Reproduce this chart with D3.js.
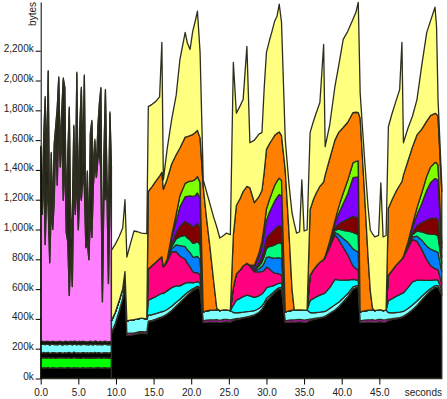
<!DOCTYPE html>
<html>
<head>
<meta charset="utf-8">
<script src="https://cdn.jsdelivr.net/npm/d3@7"></script>
<style>
  body { margin: 0; background: #fff; }
  svg { display: block; }
  text { font-family: "Liberation Sans", Arial, sans-serif; font-size: 10px; fill: #222; }
</style>
</head>
<body>
<div class="chart"></div>
<script>
//Warm-up phase (0 - 9.4 s), heap sizes in kB, one value per snapshot.
var warmTimes = [0.0,0.2,0.4,0.6,0.8,1.0,1.2,1.4,1.6,1.8,2.0,2.2,2.4,2.6,2.8,3.0,3.2,3.4,3.6,3.8,4.0,4.2,4.4,4.6,4.8,
  5.0,5.2,5.4,5.6,5.8,6.0,6.2,6.4,6.6,6.8,7.0,7.2,7.4,7.6,7.8,8.0,8.2,8.4,8.6,8.8,9.0,9.2,9.4];
var warmBlack = [72,70,73,71,72,74,70,71,73,72,71,70,72,73,71,72,70,72,74,71,72,70,73,72,71,72,70,71,73,72,
  70,72,71,73,72,70,71,72,74,71,72,70,73,71,72,70,72,71];
var warmGreen = [65,68,66,67,64,66,68,65,67,66,64,68,66,65,67,66,68,64,66,67,65,66,68,67,65,66,67,64,66,68,
  65,67,66,64,67,66,68,65,66,67,64,66,68,65,67,66,65,66];
var warmDark = [35,33,36,34,37,35,33,36,34,35,37,33,35,36,34,33,36,35,34,37,35,33,36,34,35,36,33,37,35,34,
  36,35,33,36,34,35,37,34,33,36,35,34,33,36,35,34,36,35];
var warmCyan = [55,58,54,56,57,55,53,58,56,54,57,55,56,58,54,55,57,56,53,55,58,56,54,57,55,56,58,54,56,55,
  57,53,56,58,55,54,56,57,55,54,58,56,55,57,54,56,55,57];
var warmLine = [20,22,18,21,19,20,23,18,21,20,19,22,20,18,21,20,19,22,21,18,20,22,19,21,20,18,22,20,21,19,
  20,18,22,20,19,21,20,22,18,20,21,19,20,22,18,21,20,19];
var warmPink = [1100,850,1170,650,1050,900,530,910,750,950,1400,1050,1490,1170,1450,950,1250,730,670,310,
  630,370,1070,850,1130,750,1050,950,1110,1040,630,680,550,850,700,1050,1200,1100,1230,1270,
  1150,270,1000,950,1050,390,900,1000];
var warmOlive = [200,40,190,980,90,910,110,350,90,370,40,510,280,70,90,810,450,110,570,1255,
  60,470,370,90,670,90,390,750,80,740,110,460,90,540,777,40,140,40,210,320,
  543,70,240,729,40,450,631,160];
var warmYellow = [10,12,8,15,10,6,12,10,8,14,10,12,6,10,15,12,8,10,14,10,8,12,10,16,10,12,8,10,14,10,
  12,8,10,12,9,10,14,8,10,12,10,8,12,10,14,9,10,12];

//Cyclic phase (9.4 - 53.3 s), heap sizes in kB.
var cycTimes = [9.4,9.9,10.4,10.9,11.2,11.45,11.9,12.4,12.9,13.4,14.1,
  14.3,14.8,15.3,15.8,16.1,16.3,16.8,17.4,18.0,18.5,19.2,19.5,19.85,20.2,20.5,20.83,21.18,
  21.6,22.0,22.5,23.0,23.4,23.8,24.3,24.7,25.2,
  25.6,26.0,26.5,26.9,27.4,27.8,28.4,29.0,29.4,29.7,30.0,30.4,30.7,31.1,31.4,31.7,32.0,
  32.5,33.0,33.4,33.7,34.0,34.4,34.7,35.0,35.4,
  35.8,36.2,36.6,37.1,37.6,37.8,38.4,39.1,39.6,40.2,40.8,41.5,41.9,42.2,
  42.45,43.0,43.5,43.8,44.1,44.4,44.9,45.2,45.5,45.9,
  46.2,46.7,47.2,47.7,48.0,48.2,48.8,49.4,50.0,50.6,51.3,51.8,52.4,52.6,52.8,53.3];
var cycBlack = [300,360,440,530,650,290,292,295,300,305,300,
  380,385,395,405,410,415,430,455,485,510,545,560,575,590,600,610,600,
  375,378,380,378,380,376,380,382,378,
  390,395,400,405,410,415,425,445,465,490,520,540,555,575,590,600,600,
  375,378,380,378,380,382,380,378,380,
  390,395,400,405,410,415,435,458,482,515,550,600,610,615,
  375,378,380,378,380,376,380,382,378,380,
  390,395,400,405,410,415,435,460,490,525,565,590,610,612,612,560];
var cycMagenta = [8,8,8,8,8,12,12,10,12,10,12,
  5,5,4,4,4,3,3,2,2,0,0,0,0,0,0,0,0,
  12,14,14,15,15,14,16,14,15,
  8,6,5,4,4,3,2,0,0,0,0,0,0,0,0,0,0,
  12,14,14,15,15,14,15,14,15,
  8,6,5,4,4,3,3,2,0,0,0,0,0,0,
  12,14,14,15,15,14,16,14,15,15,
  8,6,5,4,4,3,3,2,0,0,0,0,0,0,0,5];
var cycLightCyan = [80,75,70,65,60,85,88,90,88,90,88,
  40,38,36,35,34,32,30,28,25,22,20,18,15,12,10,10,10,
  60,62,64,65,65,66,64,65,63,
  45,40,38,36,35,32,28,25,22,20,18,16,14,12,10,10,10,
  60,62,64,65,65,64,65,66,64,
  45,40,38,36,35,32,32,35,30,25,20,15,12,10,
  60,62,64,65,65,66,64,65,63,64,
  45,40,38,36,35,32,32,32,30,25,18,14,12,12,12,10];
var cycCyan = [0,0,0,0,0,0,0,0,0,0,0,
  100,110,115,120,125,120,125,125,110,90,75,65,55,40,35,30,30,
  0,0,0,0,0,0,0,0,0,
  50,85,95,105,110,105,90,85,80,75,70,60,50,40,35,30,30,
  0,0,0,0,0,0,0,0,0,
  80,95,105,115,120,125,140,170,150,120,90,50,40,35,
  0,0,0,0,0,0,0,0,0,0,
  80,95,108,118,122,125,140,155,140,110,75,55,40,38,36,20];
var cycDeepPink = [0,0,0,0,0,0,0,0,0,0,0,
  210,220,230,240,245,180,195,240,230,200,160,130,105,75,65,60,55,
  0,0,0,0,0,0,0,0,0,
  120,175,190,205,215,200,170,160,150,140,140,120,100,80,70,60,55,
  0,0,0,0,0,0,0,0,0,
  170,190,205,220,230,240,270,300,270,220,170,90,75,70,
  0,0,0,0,0,0,0,0,0,0,
  170,190,208,222,230,240,265,285,260,210,140,100,75,72,70,40];
var cycAzure = [0,0,0,0,0,0,0,0,0,0,0,
  0,0,0,0,0,0,0,20,45,70,85,90,95,100,105,110,105,
  0,0,0,0,0,0,0,0,0,
  0,0,0,0,0,0,5,20,35,50,65,80,90,100,105,110,110,
  0,0,0,0,0,0,0,0,0,
  0,0,0,0,0,0,5,15,35,60,85,115,120,120,
  0,0,0,0,0,0,0,0,0,0,
  0,0,0,0,0,0,5,15,35,60,90,110,118,118,116,80];
var cycSpring = [0,0,0,0,0,0,0,0,0,0,0,
  0,0,0,0,0,0,0,15,40,60,75,80,85,90,95,100,95,
  0,0,0,0,0,0,0,0,0,
  0,0,0,0,0,0,5,20,30,45,60,70,80,90,95,100,100,
  0,0,0,0,0,0,0,0,0,
  0,0,0,0,0,0,5,15,35,55,75,110,115,115,
  0,0,0,0,0,0,0,0,0,0,
  0,0,0,0,0,0,5,15,35,55,85,100,112,112,110,60];
var cycMaroon = [0,0,0,0,0,0,0,0,0,0,0,
  0,0,0,0,0,0,0,15,40,70,95,100,105,110,115,120,115,
  0,0,0,0,0,0,0,0,0,
  0,0,0,0,0,0,5,20,35,50,65,80,90,105,110,115,115,
  0,0,0,0,0,0,0,0,0,
  0,0,0,0,0,0,5,15,35,60,80,108,110,112,
  0,0,0,0,0,0,0,0,0,0,
  0,0,0,0,0,0,5,15,35,60,90,105,110,110,108,40];
var cycPurple = [0,0,0,0,0,0,0,0,0,0,0,
  0,0,0,0,0,0,10,40,80,130,165,180,190,205,200,205,200,
  0,0,0,0,0,0,0,0,0,
  0,0,0,0,0,5,20,40,65,95,125,150,170,190,200,210,205,
  0,0,0,0,0,0,0,0,0,
  0,0,0,0,0,5,15,30,70,120,170,260,270,275,
  0,0,0,0,0,0,0,0,0,0,
  0,0,0,0,0,5,15,35,75,125,200,240,265,265,262,60];
var cycLime = [0,0,0,0,0,0,0,0,0,0,0,
  0,0,0,0,0,0,5,20,45,75,90,95,100,105,110,110,105,
  0,0,0,0,0,0,0,0,0,
  0,0,0,0,0,0,10,25,40,60,75,85,95,105,110,110,105,
  0,0,0,0,0,0,0,0,0,
  0,0,0,0,0,0,10,20,45,70,90,100,105,108,
  0,0,0,0,0,0,0,0,0,0,
  0,0,0,0,0,0,10,20,45,70,95,105,108,108,106,30];
var cycOrange = [0,0,0,0,0,0,0,0,0,0,0,
  520,530,545,555,565,520,540,480,400,320,310,305,305,310,315,310,300,
  840,640,420,190,10,0,0,0,0,
  350,460,480,500,515,520,420,380,340,360,400,375,355,335,320,310,300,
  950,520,140,0,0,0,0,0,0,
  440,470,490,510,520,545,555,540,500,440,390,337,330,325,
  1300,820,360,130,10,0,0,0,0,0,
  450,475,495,512,520,545,545,520,490,430,370,345,330,328,325,350];
var cycYellow = [472,457,432,407,482,428,508,595,585,571,572,
  570,552,535,531,873,63,202,297,398,594,703,627,579,693,741,800,574,
  46,166,292,432,547,487,500,515,509,
  1158,619,622,617,940,302,420,420,388,565,651,694,724,768,786,857,761,
  206,326,513,582,516,525,873,532,538,
  517,524,537,562,923,191,225,360,448,591,610,626,673,740,
  172,226,332,409,500,494,500,852,494,501,
  547,579,606,642,935,217,220,206,237,420,595,636,712,589,115,45];

//Axis ticks.
var byteTicks = [0,200,400,600,800,1000,1200,1400,1600,1800,2000,2200];
var secondTicks = [0,5,10,15,20,25,30,35,40,45];

//Layer colours, bottom to top.
var warmColors = ["#000000","#00ff00","#000000","#80ffff","#101010","#ff80ff","#24241a","#ffff80"];
var cycColors = ["#000000","#ff00ff","#80ffff","#00ffff","#ff0080","#0080ff","#00ff80","#800000",
  "#8000ff","#80ff00","#ff8000","#ffff80"];

var svgWidth = 447;
var svgHeight = 399;

var svg = d3.select(".chart")
  .append("svg")
  .attr("width", svgWidth)
  .attr("height", svgHeight);

var x = d3.scaleLinear().domain([0, 53.3]).range([40.7, 441.8]);
var y = d3.scaleLinear().domain([0, 2527]).range([378.5, 2]);

//Build the row tables d3.stack wants.
function buildRows(times, series) {
  return times.map(function(t, i) {
    var row = {t: t};
    series.forEach(function(s, k) { row["s" + k] = s[i]; });
    return row;
  });
}

function drawStack(times, series, colors) {
  var keys = series.map(function(s, k) { return "s" + k; });
  var layers = d3.stack().keys(keys)(buildRows(times, series));
  var area = d3.area()
    .x(function(d) { return x(d.data.t); })
    .y0(function(d) { return y(d[0]); })
    .y1(function(d) { return y(d[1]); });
  svg.append("g")
    .selectAll("path")
    .data(layers)
    .enter()
    .append("path")
    .attr("d", area)
    .attr("fill", function(d, i) { return colors[i]; })
    .attr("stroke", "#2e2e20")
    .attr("stroke-width", 1.3)
    .attr("stroke-linejoin", "round");
}

drawStack(warmTimes,
  [warmBlack, warmGreen, warmDark, warmCyan, warmLine, warmPink, warmOlive, warmYellow], warmColors);
drawStack(cycTimes,
  [cycBlack, cycMagenta, cycLightCyan, cycCyan, cycDeepPink, cycAzure, cycSpring, cycMaroon,
   cycPurple, cycLime, cycOrange, cycYellow], cycColors);

//Axes.
var leftAxis = d3.axisLeft(y)
  .tickValues(byteTicks)
  .tickFormat(function(d) { return d3.format(",")(d) + "k"; })
  .tickSize(5)
  .tickSizeOuter(0)
  .tickPadding(2);

var bottomAxis = d3.axisBottom(x)
  .tickValues(secondTicks)
  .tickFormat(d3.format(".1f"))
  .tickSize(6)
  .tickSizeOuter(0)
  .tickPadding(4);

var gy = svg.append("g")
  .attr("transform", "translate(40.7,0)")
  .call(leftAxis);
gy.selectAll("text").attr("dy", "0.1em").style("font-size", "10px");
gy.select(".domain").attr("stroke", "#000");

var gx = svg.append("g")
  .attr("transform", "translate(0,378.5)")
  .call(bottomAxis);
gx.selectAll("text").style("font-size", "10px");
gx.select(".domain").remove();

svg.append("text")
  .attr("x", 442)
  .attr("y", 396)
  .attr("text-anchor", "end")
  .text("seconds");

svg.append("text")
  .attr("transform", "translate(36,2) rotate(-90)")
  .attr("text-anchor", "end")
  .text("bytes");
</script>
</body>
</html>
